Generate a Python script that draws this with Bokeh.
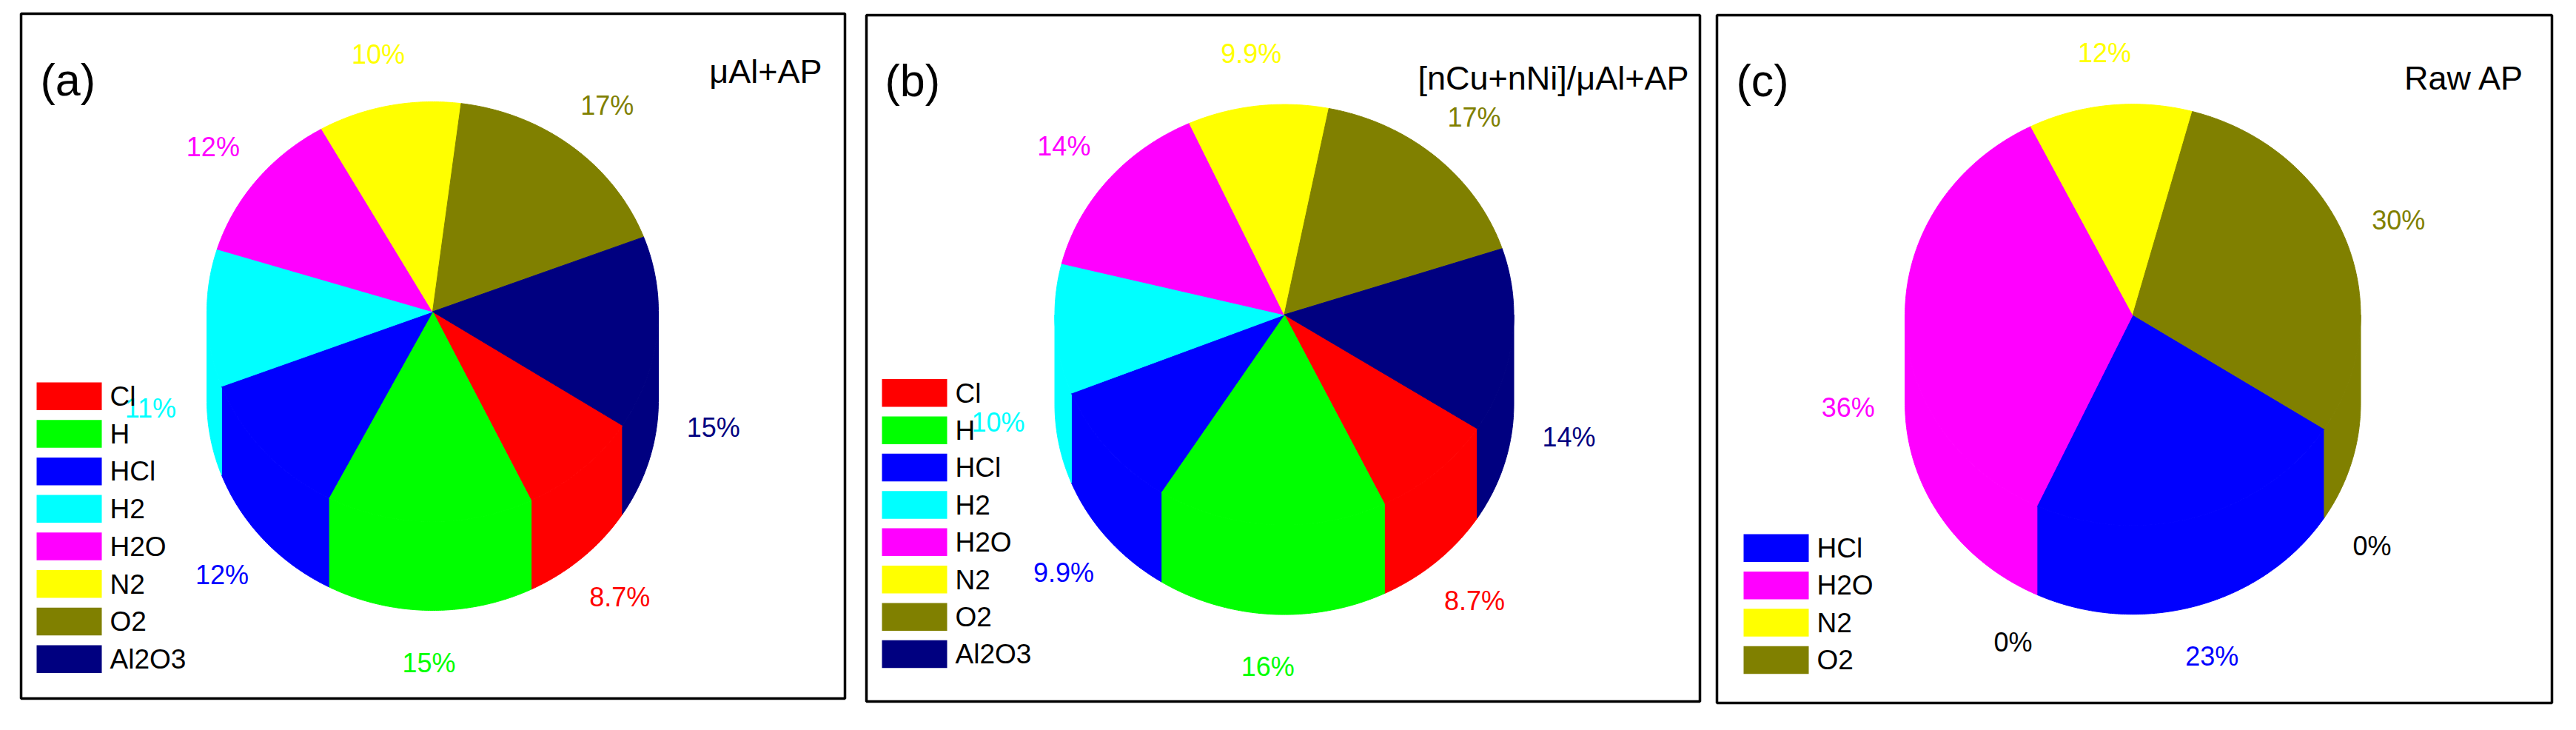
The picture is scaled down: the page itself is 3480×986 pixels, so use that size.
import numpy as np
from bokeh.plotting import figure
from bokeh.models import Range1d
from bokeh.core.properties import value
from bokeh.embed import file_html
from bokeh.resources import INLINE

# ---------------- data ----------------
species_ab = ["Cl", "H", "HCl", "H2", "H2O", "N2", "O2", "Al2O3"]
colors_ab = ["#FF0000", "#00FF00", "#0000FF", "#00FFFF", "#FF00FF", "#FFFF00", "#808000", "#000080"]
values_a = [8.7, 14.8, 11.6, 10.6, 12.0, 10.2, 17.2, 14.9]
values_b = [8.7, 16.2, 9.9, 10.0, 14.3, 9.9, 16.8, 14.2]

species_c = ["Cl", "HCl", "H2", "H2O", "N2", "O2"]
colors_c = ["#FF0000", "#0000FF", "#00FFFF", "#FF00FF", "#FFFF00", "#808000"]
values_c = [0.0, 22.8, 0.0, 35.7, 11.6, 29.9]
legend_c = ["HCl", "H2O", "N2", "O2"]

panel_tags = ["(a)", "(b)", "(c)"]
panel_titles = ["\u03bcAl+AP", "[nCu+nNi]/\u03bcAl+AP", "Raw AP"]

# ---------------- style / layout ----------------
FONT = "'Liberation Sans Narrow', 'Arial Narrow', 'Liberation Sans', Arial, sans-serif"
W, H = 3464, 970
START = 32.8      # degrees, clockwise from 3 o'clock
LABEL_K = 1.25

panels = [
    dict(frame=(36, 1149, 26, 951), c=(592, 428.5), r=(305, 283.5), t=120,
         leg_x=57, leg_top=524, leg_step=50.7, tag=(62, 115), title=(1118, 104),
         species=species_ab, colors=colors_ab, values=values_a, legend=species_ab),
    dict(frame=(1178, 2304, 28, 955), c=(1742.5, 432.6), r=(310, 284), t=121,
         leg_x=1199, leg_top=519.5, leg_step=50.4, tag=(1203, 116), title=(2289, 113),
         species=species_ab, colors=colors_ab, values=values_b, legend=species_ab),
    dict(frame=(2327, 3455, 28, 957), c=(2888.8, 432.7), r=(307.7, 284.5), t=120,
         leg_x=2363, leg_top=729, leg_step=50.4, tag=(2353, 116), title=(3418, 113),
         species=species_c, colors=colors_c, values=values_c, legend=legend_c),
]

p = figure(width=W, height=H, x_range=Range1d(8, 8 + W), y_range=Range1d(8 + H, 8),
           output_backend="svg", toolbar_location=None, min_border=0,
           x_axis_location=None, y_axis_location=None)
p.grid.visible = False
p.outline_line_color = None
p.background_fill_color = "white"
p.border_fill_color = "white"


def arc(cx, cy, rx, ry, a0, a1):
    n = max(2, int(abs(a1 - a0) / 0.5) + 1)
    th = np.radians(np.linspace(a0, a1, n))
    return cx + rx * np.cos(th), cy + ry * np.sin(th)


for pan in panels:
    L, R, T, B = pan["frame"]
    p.quad(left=[L], right=[R], top=[T], bottom=[B], fill_color=None,
           line_color="black", line_width=3.5)

    cx, cy = pan["c"]
    rx, ry = pan["r"]
    t = pan["t"]
    vals = np.array(pan["values"], dtype=float)
    edges = START + np.concatenate([[0.0], np.cumsum(vals)]) / vals.sum() * 360.0

    wall_xs, wall_ys, wall_c = [], [], []
    top_xs, top_ys, top_c = [], [], []
    lab_x, lab_y, lab_t, lab_c = [], [], [], []
    for v, col, a0, a1 in zip(vals, pan["colors"], edges[:-1], edges[1:]):
        if v > 0:
            ax, ay = arc(cx, cy, rx, ry, a0, a1)
            top_xs.append([cx] + list(ax))
            top_ys.append([cy] + list(ay))
            top_c.append(col)
            for k in (0.0, 360.0):
                lo, hi = max(a0, k), min(a1, k + 180.0)
                if hi > lo:
                    wx, wy = arc(cx, cy, rx, ry, lo, hi)
                    wall_xs.append(list(wx) + list(wx[::-1]))
                    wall_ys.append(list(wy) + list(wy[::-1] + t))
                    wall_c.append(col)
        m = np.radians((a0 + a1) / 2.0)
        lab_x.append(cx + LABEL_K * rx * np.cos(m))
        lab_y.append(cy + LABEL_K * ry * np.sin(m) + (t if np.sin(m) > 0 else 0))
        lab_t.append(f"{v:.2g}%")
        lab_c.append(col if v > 0 else "black")

    p.patches(wall_xs, wall_ys, fill_color=wall_c, line_color=wall_c, line_width=1)
    p.patches(top_xs, top_ys, fill_color=top_c, line_color=top_c, line_width=1)
    p.text(lab_x, lab_y, text=lab_t, text_color=lab_c, text_font=value(FONT),
           text_font_size="36px", text_align="center", text_baseline="middle")

    # legend
    leg = pan["legend"]
    cmap = dict(zip(pan["species"], pan["colors"]))
    tops = [pan["leg_top"] + i * pan["leg_step"] for i in range(len(leg))]
    lx = pan["leg_x"]
    p.quad(left=[lx] * len(leg), right=[lx + 88] * len(leg), top=tops,
           bottom=[tt + 37.5 for tt in tops], fill_color=[cmap[s] for s in leg],
           line_color=None)
    p.text([lx + 99] * len(leg), [tt + 19 for tt in tops], text=leg, text_color="black",
           text_font=value(FONT), text_font_size="37px", text_align="left",
           text_baseline="middle")

# panel tags and titles
for pan, tag, title in zip(panels, panel_tags, panel_titles):
    p.text([pan["tag"][0]], [pan["tag"][1]], text=[tag], text_color="black",
           text_font=value(FONT), text_font_size="61px", text_align="left",
           text_baseline="alphabetic")
    p.text([pan["title"][0]], [pan["title"][1]], text=[title], text_color="black",
           text_font=value(FONT), text_font_size="45px", text_align="right",
           text_baseline="alphabetic")

open("out.html", "w").write(file_html(p, INLINE))
